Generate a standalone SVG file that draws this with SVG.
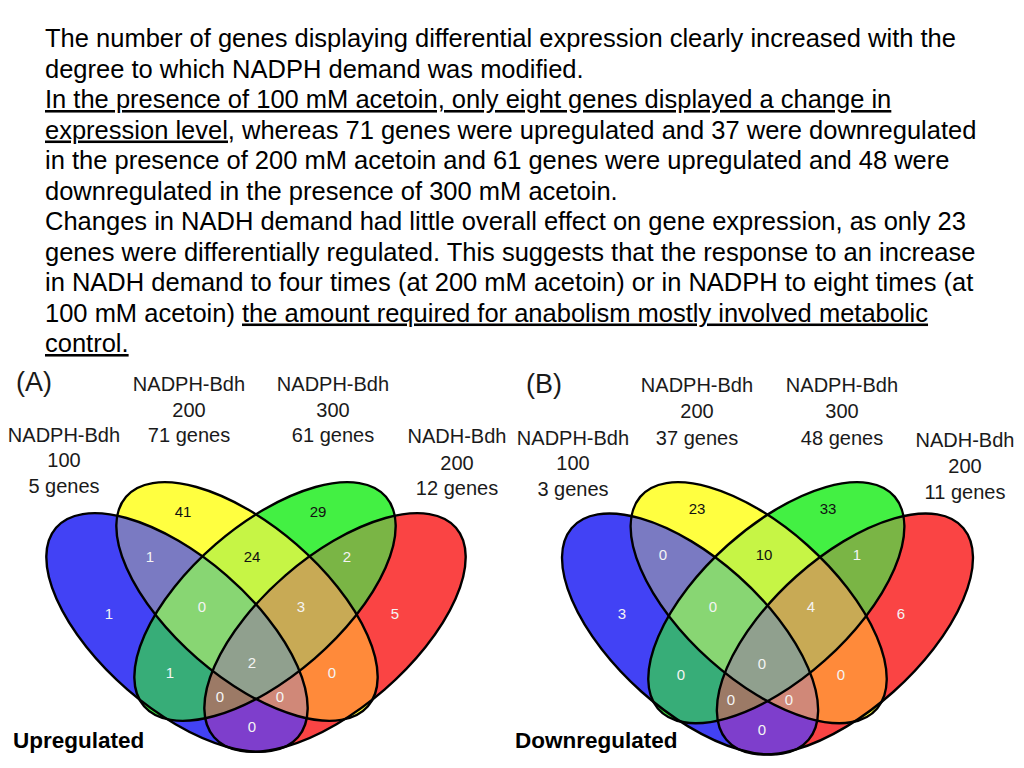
<svg xmlns="http://www.w3.org/2000/svg" xmlns:xlink="http://www.w3.org/1999/xlink" width="1024" height="768" viewBox="0 0 1024 768">
<style>
  .para { font-family: "Liberation Sans", Arial, sans-serif; font-size: 25.5px; fill: #000; }
  .ul { text-decoration: underline; }
  .lbl { font-family: "Liberation Sans", Arial, sans-serif; font-size: 20px; fill: #1a1a1a; text-anchor: middle; }
  .tag { font-family: "Liberation Sans", Arial, sans-serif; font-size: 27px; fill: #1a1a1a; }
  .num { font-family: "Liberation Sans", Arial, sans-serif; font-size: 15px; fill: #f4f4f4; text-anchor: middle; }
  .dark { fill: #111; }
  .cap { font-family: "Liberation Sans", Arial, sans-serif; font-size: 22.5px; font-weight: bold; fill: #000; }
  .outline { fill: none; stroke: #000; stroke-width: 2.4; }
</style>
<defs>
  <ellipse id="eB" cx="177" cy="632.5" rx="160" ry="75.6" transform="rotate(40.9 177 632.5)"/>
  <ellipse id="eY" cx="247" cy="601.5" rx="160" ry="75.6" transform="rotate(40.9 247 601.5)"/>
  <ellipse id="eG" cx="265" cy="601.5" rx="160" ry="75.6" transform="rotate(-40.9 265 601.5)"/>
  <ellipse id="eR" cx="335" cy="632.5" rx="160" ry="75.6" transform="rotate(-40.9 335 632.5)"/>
  <clipPath id="cB"><use xlink:href="#eB"/></clipPath>
  <clipPath id="cY"><use xlink:href="#eY"/></clipPath>
  <clipPath id="cG"><use xlink:href="#eG"/></clipPath>
  <g id="vennShapes">
    <use xlink:href="#eB" fill="#4242F5"/>
    <use xlink:href="#eY" fill="#FFFF40"/>
    <use xlink:href="#eG" fill="#43F043"/>
    <use xlink:href="#eR" fill="#FA4444"/>
    <g clip-path="url(#cB)"><use xlink:href="#eY" fill="#7A7AC2"/></g>
    <g clip-path="url(#cB)"><use xlink:href="#eG" fill="#37AD78"/></g>
    <g clip-path="url(#cB)"><use xlink:href="#eR" fill="#7E3ECC"/></g>
    <g clip-path="url(#cY)"><use xlink:href="#eG" fill="#C6F545"/></g>
    <g clip-path="url(#cY)"><use xlink:href="#eR" fill="#FF8A3A"/></g>
    <g clip-path="url(#cG)"><use xlink:href="#eR" fill="#7AB545"/></g>
    <g clip-path="url(#cB)"><g clip-path="url(#cY)"><use xlink:href="#eG" fill="#88D673"/></g></g>
    <g clip-path="url(#cB)"><g clip-path="url(#cY)"><use xlink:href="#eR" fill="#D08878"/></g></g>
    <g clip-path="url(#cB)"><g clip-path="url(#cG)"><use xlink:href="#eR" fill="#9C7A66"/></g></g>
    <g clip-path="url(#cY)"><g clip-path="url(#cG)"><use xlink:href="#eR" fill="#C8AA55"/></g></g>
    <g clip-path="url(#cB)"><g clip-path="url(#cY)"><g clip-path="url(#cG)"><use xlink:href="#eR" fill="#90A08E"/></g></g></g>
    <use xlink:href="#eB" class="outline"/>
    <use xlink:href="#eY" class="outline"/>
    <use xlink:href="#eG" class="outline"/>
    <use xlink:href="#eR" class="outline"/>
  </g>
</defs>
<rect width="1024" height="768" fill="#ffffff"/>

<g id="paragraph" class="para">
  <text x="45" y="47">The number of genes displaying differential expression clearly increased with the</text>
  <text x="45" y="77.5">degree to which NADPH demand was modified.</text>
  <text x="45" y="108"><tspan class="ul">In the presence of 100 mM acetoin, only eight genes displayed a change in</tspan></text>
  <text x="45" y="138.5"><tspan class="ul">expression level,</tspan> whereas 71 genes were upregulated and 37 were downregulated</text>
  <text x="45" y="169">in the presence of 200 mM acetoin and 61 genes were upregulated and 48 were</text>
  <text x="45" y="199.5">downregulated in the presence of 300 mM acetoin.</text>
  <text x="45" y="230">Changes in NADH demand had little overall effect on gene expression, as only 23</text>
  <text x="45" y="260.5">genes were differentially regulated. This suggests that the response to an increase</text>
  <text x="45" y="291">in NADH demand to four times (at 200 mM acetoin) or in NADPH to eight times (at</text>
  <text x="45" y="321.5">100 mM acetoin) <tspan class="ul">the amount required for anabolism mostly involved metabolic</tspan></text>
  <text x="45" y="352"><tspan class="ul">control.</tspan></text>
</g>

<g id="vennA">
  <use xlink:href="#vennShapes"/>
  <text class="tag" x="16" y="391">(A)</text>
  <g id="labelA1"><text class="lbl" x="64" y="442">NADPH-Bdh</text><text class="lbl" x="64" y="467">100</text><text class="lbl" x="64" y="493">5 genes</text></g>
  <g id="labelA2"><text class="lbl" x="189" y="391">NADPH-Bdh</text><text class="lbl" x="189" y="417">200</text><text class="lbl" x="189" y="442">71 genes</text></g>
  <g id="labelA3"><text class="lbl" x="333" y="391">NADPH-Bdh</text><text class="lbl" x="333" y="417">300</text><text class="lbl" x="333" y="442">61 genes</text></g>
  <g id="labelA4"><text class="lbl" x="457" y="443">NADH-Bdh</text><text class="lbl" x="457" y="470">200</text><text class="lbl" x="457" y="495">12 genes</text></g>
  <g id="numsA">
    <text class="num dark" x="183" y="517">41</text>
    <text class="num dark" x="318" y="517">29</text>
    <text class="num" x="150" y="562">1</text>
    <text class="num dark" x="252" y="562">24</text>
    <text class="num" x="347" y="562">2</text>
    <text class="num" x="109" y="619">1</text>
    <text class="num" x="202" y="612">0</text>
    <text class="num" x="301" y="612">3</text>
    <text class="num" x="395" y="619">5</text>
    <text class="num" x="252" y="668">2</text>
    <text class="num" x="170" y="678">1</text>
    <text class="num" x="332" y="678">0</text>
    <text class="num" x="220" y="702">0</text>
    <text class="num" x="280" y="702">0</text>
    <text class="num" x="252" y="732">0</text>
  </g>
  <text class="cap" x="13" y="748">Upregulated</text>
</g>

<g id="vennB">
  <use xlink:href="#vennShapes" transform="translate(767.5 482) scale(0.98 1.01) translate(-256 -482)"/>
  <text class="tag" x="526" y="393">(B)</text>
  <g id="labelB1"><text class="lbl" x="573" y="445">NADPH-Bdh</text><text class="lbl" x="573" y="470">100</text><text class="lbl" x="573" y="496">3 genes</text></g>
  <g id="labelB2"><text class="lbl" x="697" y="392">NADPH-Bdh</text><text class="lbl" x="697" y="418">200</text><text class="lbl" x="697" y="445">37 genes</text></g>
  <g id="labelB3"><text class="lbl" x="842" y="392">NADPH-Bdh</text><text class="lbl" x="842" y="418">300</text><text class="lbl" x="842" y="445">48 genes</text></g>
  <g id="labelB4"><text class="lbl" x="965" y="447">NADH-Bdh</text><text class="lbl" x="965" y="473">200</text><text class="lbl" x="965" y="499">11 genes</text></g>
  <g id="numsB">
    <text class="num dark" x="697" y="514">23</text>
    <text class="num dark" x="828" y="514">33</text>
    <text class="num" x="663" y="560">0</text>
    <text class="num dark" x="764" y="560">10</text>
    <text class="num" x="857" y="560">1</text>
    <text class="num" x="622" y="619">3</text>
    <text class="num" x="713" y="612">0</text>
    <text class="num" x="811" y="612">4</text>
    <text class="num" x="901" y="619">6</text>
    <text class="num" x="762" y="669">0</text>
    <text class="num" x="681" y="680">0</text>
    <text class="num" x="841" y="680">0</text>
    <text class="num" x="731" y="705">0</text>
    <text class="num" x="789" y="705">0</text>
    <text class="num" x="762" y="735">0</text>
  </g>
  <text class="cap" x="515" y="748">Downregulated</text>
</g>
</svg>
